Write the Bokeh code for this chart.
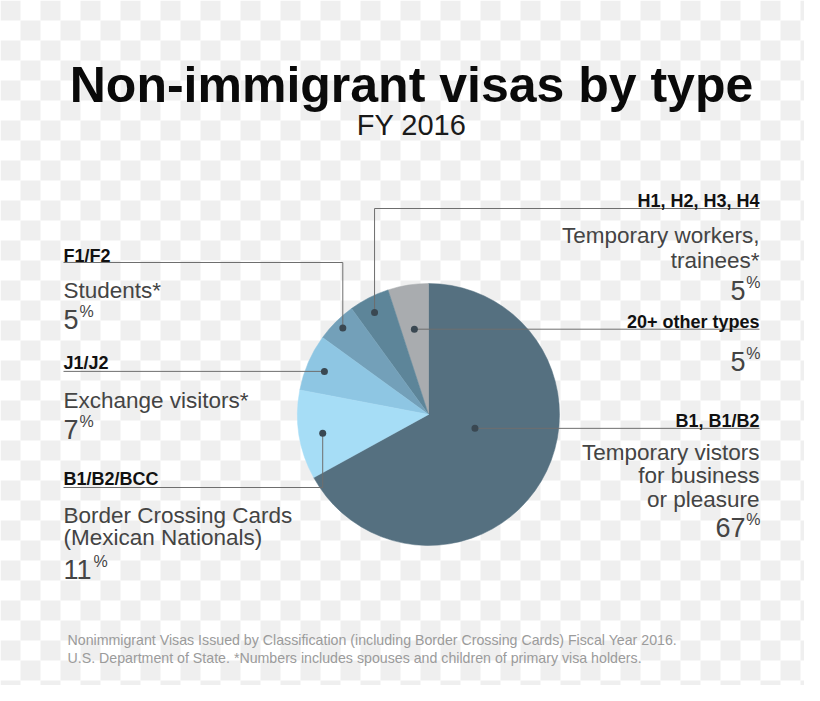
import math
import numpy as np
from bokeh.plotting import figure
from bokeh.models import Range1d
from bokeh.core.properties import value
from bokeh.embed import file_html
from bokeh.resources import INLINE

# ---------------- data (anticlockwise order, starting with B1/B2) ----------------
visa_codes = ["B1, B1/B2", "20+ other types", "H1, H2, H3, H4", "F1/F2", "J1/J2", "B1/B2/BCC"]
visa_types = [
    ["Temporary vistors", "for business", "or pleasure"],
    [],
    ["Temporary workers,", "trainees*"],
    ["Students*"],
    ["Exchange visitors*"],
    ["Border Crossing Cards", "(Mexican Nationals)"],
]
shares_pct = [67, 5, 5, 5, 7, 11]
slice_colors = ["#557080", "#a9acaf", "#5d8599", "#73a0b9", "#8ec6e3", "#a6ddf6"]

title_text = "Non-immigrant visas by type"
subtitle_text = "FY 2016"
footer_lines = [
    "Nonimmigrant Visas Issued by Classification (including Border Crossing Cards) Fiscal Year 2016.",
    "U.S. Department of State. *Numbers includes spouses and children of primary visa holders.",
]

# ---------------- layout (screen pixels of the 820x701 page) ----------------
IMG_H = 701
def Y(px):
    return IMG_H - px

CX, CY, R = 428, 414, 131
XL, XR = 63, 759
FONT = "Liberation Sans"
TXT = "#444444"

# per slice: side, dot (angle offset deg, radius fraction), elbow y (None = straight),
# code baseline, description baselines, number baseline
layout = [
    dict(side="R", dot=(14.0, 0.37), elbow=None, code=420, desc=[451.5, 475, 498.5], num=526.5),
    dict(side="R", dot=(0.4, 0.66), elbow=None, code=321.5, desc=[], num=361),
    dict(side="R", dot=(0.9, 0.88), elbow=208, code=200.5, desc=[235, 260], num=290),
    dict(side="L", dot=(-0.3, 0.93), elbow=262, code=255, desc=[290], num=318.5),
    dict(side="L", dot=(0.9, 0.86), elbow=None, code=362.5, desc=[400], num=428.5),
    dict(side="L", dot=(1.0, 0.82), elbow=487, code=478.5, desc=[515, 537], num=568.5),
]

# ---------------- figure ----------------
p = figure(width=804, height=685, x_range=Range1d(0, 804), y_range=Range1d(16, 701),
           output_backend="svg", toolbar_location=None, min_border=0,
           x_axis_type=None, y_axis_type=None)
p.grid.visible = False
p.outline_line_color = None
p.background_fill_color = "white"
p.border_fill_color = "white"

# transparent-style checkerboard backdrop
ii, jj = np.meshgrid(np.arange(42), np.arange(36))
mask = ((ii + jj) % 2 == 0)
p.rect(x=(10 + 20 * ii[mask]).tolist(), y=[Y(v) for v in (10 + 20 * jj[mask]).tolist()],
       width=20, height=20, fill_color="#efefef", line_color=None)

# pie
total = float(sum(shares_pct))
start0 = math.pi / 2 - 2 * math.pi * shares_pct[0] / total
starts, ends, acc = [], [], start0
for s in shares_pct:
    starts.append(acc)
    acc += 2 * math.pi * s / total
    ends.append(acc)
p.wedge(x=CX, y=Y(CY), radius=R, start_angle=starts, end_angle=ends,
        fill_color=slice_colors, line_color=slice_colors, line_width=0.5)

# connectors, dots, labels
dots_x, dots_y, xs, ys = [], [], [], []
for k, lay in enumerate(layout):
    mid = (starts[k] + ends[k]) / 2 + math.radians(lay["dot"][0])
    dx = CX + R * lay["dot"][1] * math.cos(mid)
    dy = CY - R * lay["dot"][1] * math.sin(mid)
    dots_x.append(dx); dots_y.append(Y(dy))
    xend = XR if lay["side"] == "R" else XL
    if lay["elbow"] is None:
        xs.append([dx, xend]); ys.append([Y(dy), Y(dy)])
    else:
        xs.append([dx, dx, xend]); ys.append([Y(dy), Y(lay["elbow"]), Y(lay["elbow"])])

p.multi_line(xs=xs, ys=ys, line_color="#6e6e6e", line_width=1)
p.scatter(x=dots_x, y=dots_y, size=7, fill_color="#3a4852", line_color=None)

def add_text(x, y, t, size, style="normal", color=TXT, align="left"):
    p.text(x=x, y=y, text=t, text_font=value(FONT), text_font_size=value(size),
           text_font_style=style, text_color=color, text_align=align,
           text_baseline="alphabetic")

for k, lay in enumerate(layout):
    right = lay["side"] == "R"
    ax = XR if right else XL
    al = "right" if right else "left"
    add_text([ax], [Y(lay["code"])], [visa_codes[k]], "18px", "bold", "#111111", al)
    add_text([ax] * len(lay["desc"]), [Y(v) for v in lay["desc"]], visa_types[k],
             "22.5px", "normal", TXT, al)
    num = str(shares_pct[k])
    if right:
        add_text([XR - 14], [Y(lay["num"])], [num], "27px", "normal", TXT, "right")
        add_text([XR + 1], [Y(lay["num"] - 8)], ["%"], "16px", "normal", TXT, "right")
    else:
        add_text([XL], [Y(lay["num"])], [num], "27px", "normal", TXT, "left")
        add_text([XL + len(num) * 15 + 2 - len(num)], [Y(lay["num"] - 8)], ["%"], "16px", "normal", TXT, "left")

# title, subtitle, footer
add_text([411], [Y(84)], [title_text], "50px", "bold", "#0a0a0a", "center")
add_text([411], [Y(124)], [subtitle_text], "29px", "normal", "#1a1a1a", "center")
add_text([67, 67], [Y(639), Y(657)], footer_lines, "14.2px", "normal", "#9b9b9b", "left")

open("out.html", "w").write(file_html(p, INLINE))
